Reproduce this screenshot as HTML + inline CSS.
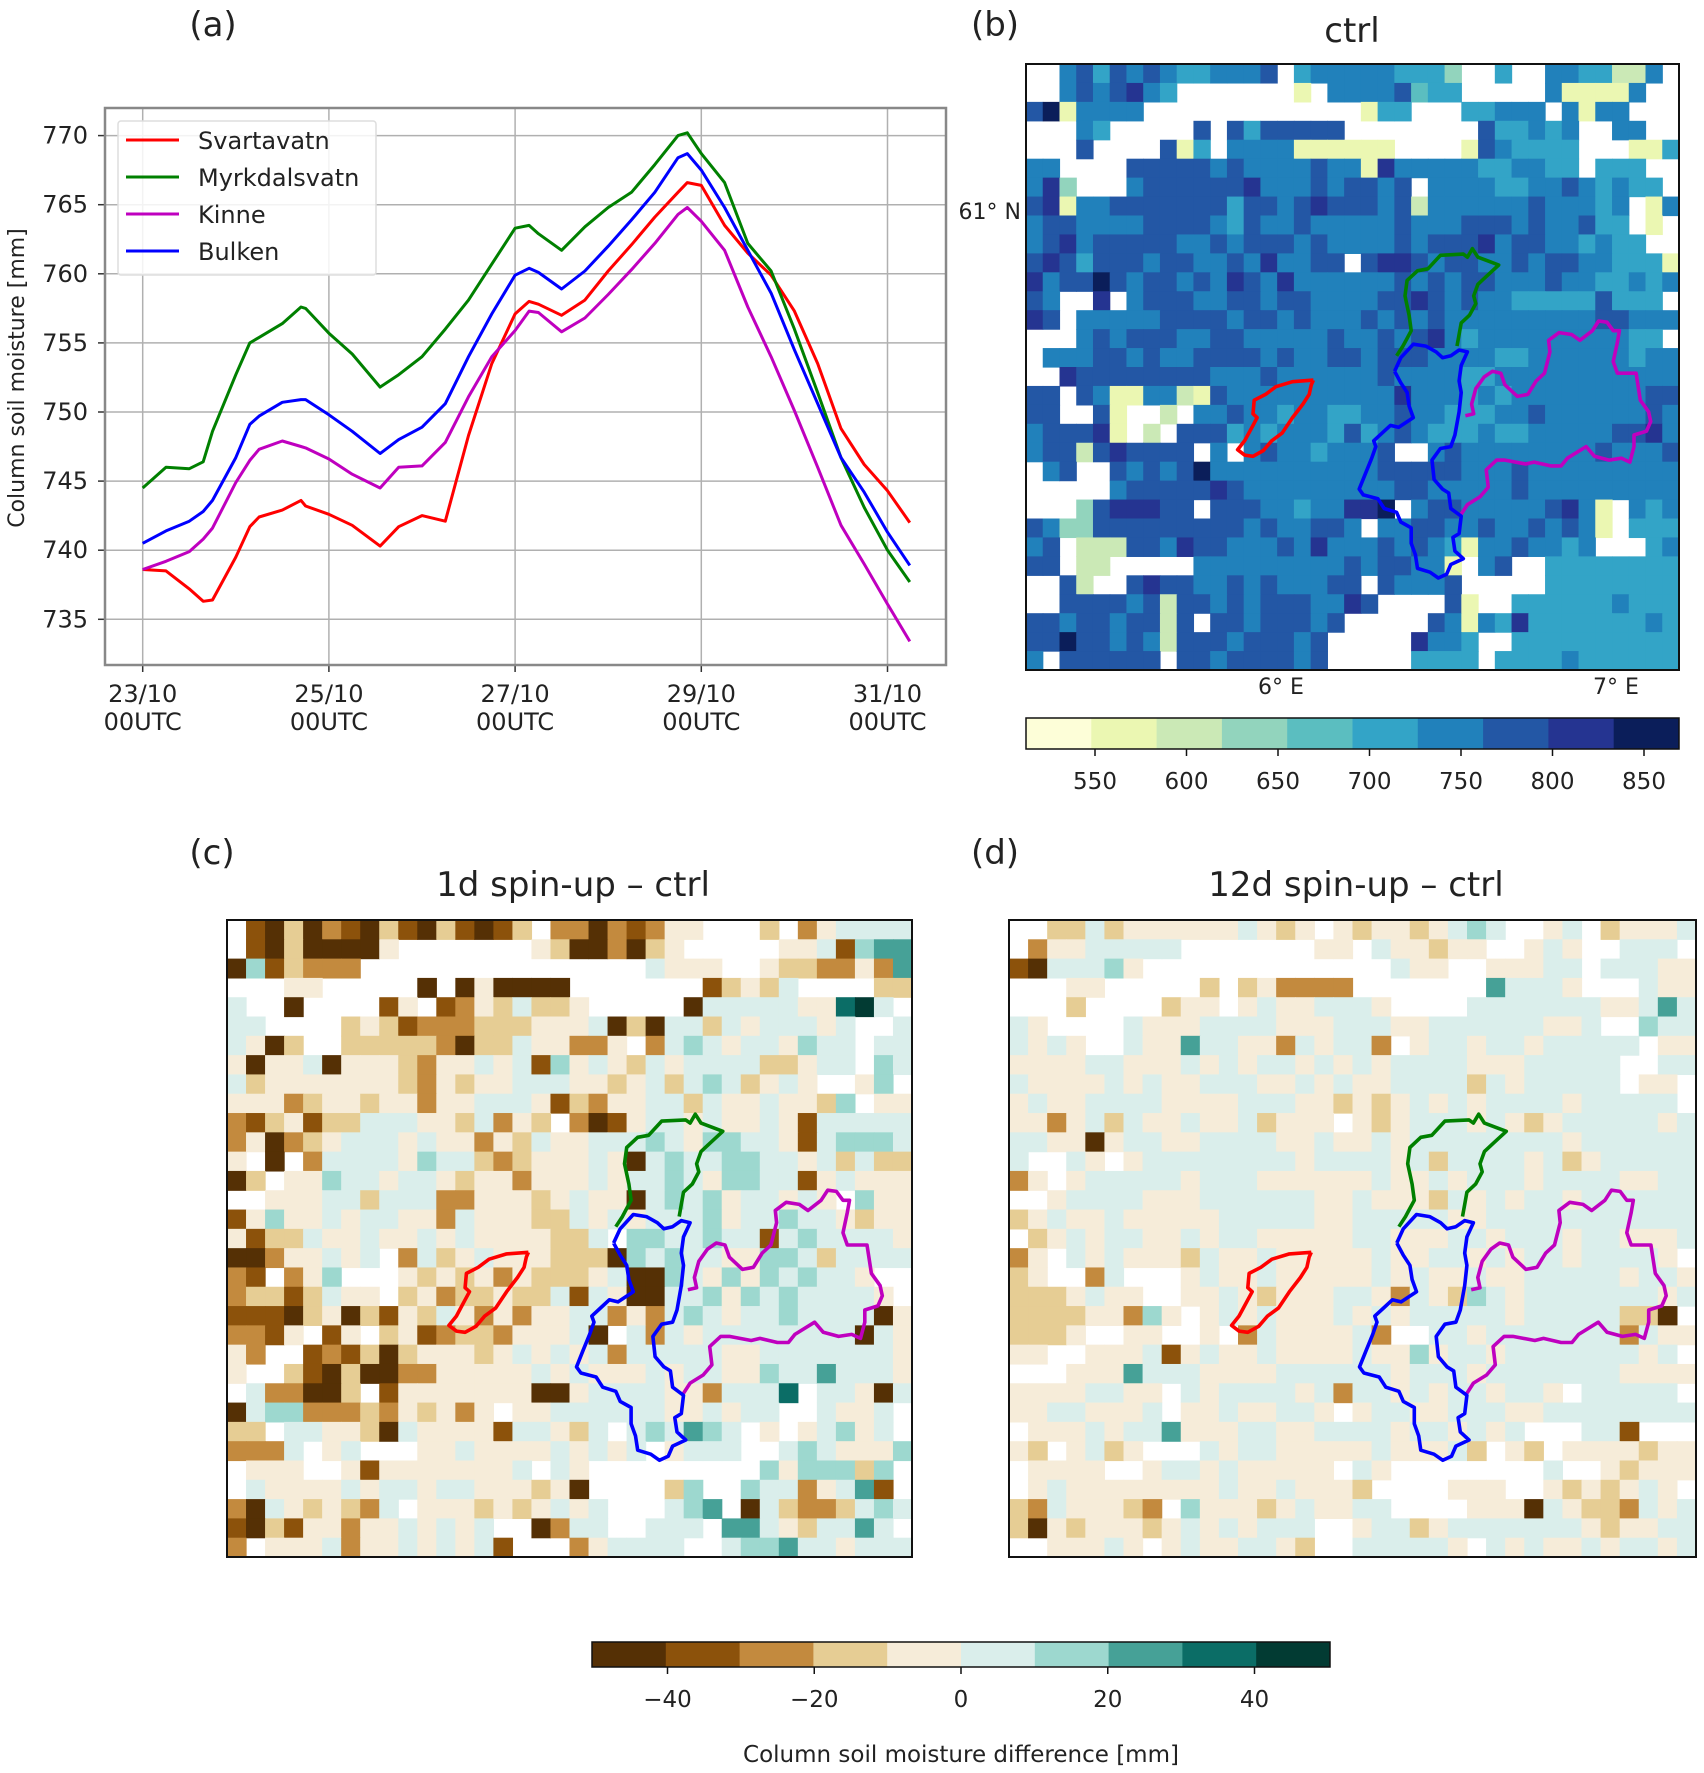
<!DOCTYPE html>
<html><head><meta charset="utf-8">
<style>
html,body{margin:0;padding:0;background:#fff;}
svg{display:block;font-family:"DejaVu Sans","Liberation Sans",sans-serif;}
</style></head>
<body>
<svg id="fig" width="1704" height="1773" viewBox="0 0 1704 1773" xmlns="http://www.w3.org/2000/svg">
<g id="pa"></g>
<g id="pb"></g>
<g id="pc"></g>
<g id="pd"></g>
<g id="cb"></g>
</svg>
<script>
// ---------- Panel (a) data ----------
const times = [0,0.25,0.5,0.65,0.75,1,1.15,1.25,1.5,1.7,1.75,2,2.25,2.55,2.75,3,3.25,3.5,3.75,4,4.15,4.25,4.5,4.75,5,5.25,5.5,5.75,5.85,6,6.25,6.5,6.75,7,7.25,7.5,7.75,8,8.24];
const svartavatn = [738.6,738.5,737.2,736.3,736.4,739.5,741.7,742.4,742.9,743.6,743.2,742.6,741.8,740.3,741.7,742.5,742.1,748.3,753.5,757.1,758.0,757.8,757.0,758.1,760.2,762.1,764.1,765.9,766.6,766.4,763.5,761.5,759.9,757.3,753.5,748.8,746.2,744.3,742.0];
const myrkdalsvatn = [744.5,746.0,745.9,746.4,748.6,752.7,755.0,755.4,756.4,757.6,757.5,755.7,754.2,751.8,752.7,754.0,756.0,758.1,760.7,763.3,763.5,762.9,761.7,763.4,764.8,765.9,767.9,770.0,770.2,768.7,766.6,762.2,760.2,756.0,751.4,746.7,743.1,740.0,737.7];
const kinne = [738.6,739.2,739.9,740.8,741.6,744.9,746.5,747.3,747.9,747.5,747.4,746.6,745.5,744.5,746.0,746.1,747.8,751.1,754.0,755.9,757.3,757.2,755.8,756.8,758.5,760.3,762.2,764.3,764.8,763.8,761.7,757.6,754.0,750.1,746.0,741.8,739.0,736.1,733.4];
const bulken = [740.5,741.4,742.1,742.8,743.6,746.7,749.1,749.7,750.7,750.9,750.9,749.8,748.6,747.0,748.0,748.9,750.6,754.0,757.1,759.9,760.4,760.1,758.9,760.2,762.0,763.9,765.9,768.4,768.7,767.5,764.8,761.7,758.6,754.5,750.6,746.7,744.2,741.3,738.9];
const seriesNames = ["Svartavatn","Myrkdalsvatn","Kinne","Bulken"];
const seriesColors = ["#ff0000","#008000","#bf00bf","#0000ff"];
const yTicks = [735,740,745,750,755,760,765,770];
const xTickDays = [0,2,4,6,8];
const xTickLabels = ["23/10","25/10","27/10","29/10","31/10"];

// ---------- Map data ----------
const ctrlRows = [
"..6757676556667.5666665553..5..665522 6",
"..6767865.......1.66667455..... 611116",
"791666 6.............1 55...55666.6166",
"...65.....7.7 577777........755656..66",
"...7....71 5.6666111111....1765555...11 5",
"66....777776766667661866666556655.555",
"683...67777778666767767.66665566765655",
"781667777777577678777672666666766656.16",
"677666677776576676666676667776766755.1.",
"678677777667677767666676777867766565 5..",
"7875777677667686677.788767766767766555 15",
"867797677676876866666676767766676655656555",
"76..8.677766776776666778767665555575 55",
"87.666667777677676667676766666666677666 6",
"...67677766776666676676786566666666 655",
".66677676677776766776777666655666666 566",
"..87777777766676666667666655666666666 66",
"77.761166217666666666686665656666666677",
"77..71..2.66766566556676655566766666676",
"677781.2.7775656665756765556556666677 86",
"6772787777.6.67665666 7..676666666676667 76",
".67..76767966666666667777766676666666666",
".....6777778766666666677666667666666666",
"...378887 7.77766566889.677666667861.6565",
"76337777777776766776.66776676676761.5556",
"67.2227768776667686667676516676656...565",
"77.22.....666666666767766 1.67..55555555",
"..72..78776676766677 .7666 7.....55555555",
"..777767277676777668 7....71..5555556555",
"77677677 27.776777 67.....761658555555565",
"779776762777677767 .....8665..5555555555",
"6.777777.77677776 7.....5555.5555655555 5"
];
const diff1dRows = [
".103021031031 01 3.2202124 4...3.24555553",
".1030000 4.......4300203 4.....445167 7.",
"0613222...............5444..43322427...",
"...44.....0.04 0000.......1343 5....33",
"5..0....14.1 24353 34.....05555544 895",
"55....343122233344450305535455545..5",
"540 3..3333320335442 24.2565455465 5.55",
"404450444324454516 4543545 5553 345 5.655",
"534444444324 34 4555443453565 345 4..46",
"444 234434424455 541 3244 55354454 4 3 6.44",
"213413355544352 43.2014 554544541 55555",
"240234555454424354455 56546655 41566 65",
"4.0.25555465532344454 05655665 54535 33",
"03.44655455434424 4454556546655 14544 4",
"..4445535552244434 54405656 45545 4.644",
"146445455442544433 54 545556455 65543 44",
"41335445445454444335.66556551565555 4",
"00244545.25345444333065655446 6535555",
"21.246...43434243334500654646 565 54",
"23313544.3423343351540055646 5655554",
"11103403143542424455242565455655 5504",
"2214.14.34123324445 0.525455555555 05 44",
"42..1213034443454545 2555554455555 5544",
"4..3103002244444545444545544 65575 5544",
".522003.144444440045555442555 8.55405",
"0566222324342 4.44555555445455..5445",
"33.554430544441554 35.5657 65.4.45645",
"2225.45...44544445454 5.4555..565 44 46",
".444..41444444 45.54.........64666 36",
".5444454554554443 40....36..6552 4571",
"20543432 5.44434 3454 5...567.05 3 2235 65",
"10314424454545..025 5..555.775435 575",
"2.4445244545451...245555..5667554555"
];
const diff12dRows = [
"..33534444445434.4344345 65..45.3444 54",
".24455555.......44.5443 44..454..555..",
"1055564.............544..44455.5554 4",
"...44.....3.34 2222.......7555 4...544",
"...3....344.4544555 4....55555 5544575",
"54....54445555444555 4455555 5445..655",
"5454..544755 4425 455 2.455 4554 5555 5.44",
"4444554445 454554545 4 55554 4455555..55",
"544445454 4555445 45445555 3545555 5.44",
"4544555544445 554434345454555545 5555..",
"442453544 5445344 4.434 555454 3455555 45",
"554404554455554454 454555555554 5555 55",
"5..54.45555555545555 4535555 45345555 5",
"24.455555455544444454 4545554555 5445 5",
"..455554445555554454443545455 455 5555",
"34544544444555554455555445555555555555",
".3454554454554444455 44455455545544 45",
"24.54544435445444445445545455455554",
"34..25...4544544444545445445555545 54",
"333454 4..4454344455425436545555555 45",
"33334426 4.454544454 5455555455555330",
"3334..44..4.2544445 2..55455555552544",
"44..4445 145445444454 46455455555554 5",
"...444755544445555554555455555 5544 44",
"44445544.5455554525545455455 4.55555",
"44554445.44544554.45544555445555555555",
".44454557 444554455554554545...551",
"43.45 34...5455444445444 53.43.444434 4",
".4444..455454444 4.54........5..43 4444 5",
".454444444454 4544 43....444..4343454",
"3254443 2.6444345445 5....4440543 3254 5",
"30434443454545 55..4553 455555554 3445 55",
"..4445 4.45445543..555554.545445455 45"
];

// catchment outlines, fractional axes coordinates (x,y from top-left, /1568)
const svartavatnOutline = [[690,818],[640,822],[600,835],[575,855],[548,870],[545,905],[555,915],[545,935],[535,955],[525,975],[508,998],[525,1012],[545,1015],[570,1000],[590,975],[615,955],[640,915],[665,880],[680,855],[685,830],[690,818]];
const myrkdalsvatnOutline = [[890,755],[905,730],[915,710],[925,690],[920,650],[910,600],[915,560],[940,535],[965,530],[995,495],[1050,492],[1060,500],[1072,478],[1085,500],[1110,510],[1135,520],[1105,550],[1085,570],[1075,600],[1080,620],[1065,650],[1045,670],[1040,700],[1035,730]];
const bulkenOutline = [[885,795],[900,760],[930,725],[960,730],[985,745],[1000,760],[1020,755],[1040,740],[1060,745],[1045,780],[1040,820],[1045,850],[1040,900],[1030,960],[1020,990],[995,995],[975,1025],[980,1075],[1000,1100],[1015,1110],[1020,1150],[1045,1170],[1040,1215],[1025,1225],[1030,1260],[1050,1280],[1020,1295],[1010,1320],[990,1330],[970,1315],[940,1305],[935,1270],[925,1240],[925,1200],[900,1185],[890,1160],[860,1150],[845,1125],[810,1115],[800,1100],[815,1060],[830,1020],[840,990],[835,975],[855,955],[875,935],[895,940],[930,915],[920,885],[915,850],[900,825],[885,795]];
const kinneOutline = [[1045,1165],[1060,1140],[1090,1120],[1110,1095],[1105,1050],[1130,1025],[1150,1025],[1200,1035],[1220,1030],[1260,1040],[1285,1040],[1300,1020],[1345,990],[1365,1015],[1400,1025],[1430,1020],[1450,1030],[1460,990],[1460,960],[1490,950],[1500,925],[1495,900],[1475,870],[1465,800],[1420,800],[1410,770],[1420,720],[1425,690],[1410,690],[1395,668],[1375,665],[1360,690],[1330,715],[1310,700],[1280,695],[1255,715],[1258,745],[1245,800],[1225,820],[1205,855],[1180,860],[1150,830],[1140,800],[1120,795],[1100,810],[1080,840],[1070,880],[1075,905],[1055,910]];

const ctrlColors = ["#fdfed8","#ebf7b2","#cbe9b6","#92d4bd","#5bbec0","#33a4c7","#2181bb","#2357a5","#253491","#0b1e5a"];
const ctrlTicks = [550,600,650,700,750,800,850];
const diffColors = ["#553005","#8c520b","#c38a3e","#e6cd94","#f6ecd9","#daeeeb","#9dd8cf","#46a197","#0b6d66","#023b33"];
const diffTicks = [-40,-20,0,20,40];

const NS="http://www.w3.org/2000/svg";
function mk(tag, parent, attrs){const e=document.createElementNS(NS,tag);for(const k in attrs)e.setAttribute(k,attrs[k]);parent.appendChild(e);return e;}
function txt(parent, x, y, s, size, anchor){const t=mk("text",parent,{x:x,y:y,"font-size":size,"text-anchor":anchor||"middle",fill:"#222"});t.textContent=s;return t;}

// ---------- Panel (a) ----------
const pa=document.getElementById("pa");
const AX={l:105,r:946,t:108,b:665};
const xS=d=>142.7+d*93.1;
const yS=v=>135.6+(770-v)*13.82;
let t;
t=txt(pa,213,36,"(a)",34);


mk("rect",pa,{x:AX.l,y:AX.t,width:AX.r-AX.l,height:AX.b-AX.t,fill:"#fff"});
xTickDays.forEach((d,i)=>{
  const gl=mk("line",pa,{x1:xS(d),x2:xS(d),y1:AX.t,y2:AX.b,stroke:"#b0b0b0","stroke-width":1.5});
  
  
  mk("line",pa,{x1:xS(d),x2:xS(d),y1:AX.b,y2:AX.b+7,stroke:"#333","stroke-width":1.5});
  const a=txt(pa,xS(d),702,xTickLabels[i],24);
  
  
  const b=txt(pa,xS(d),730,"00UTC",24);
  
  
});
yTicks.forEach(v=>{
  const gl=mk("line",pa,{x1:AX.l,x2:AX.r,y1:yS(v),y2:yS(v),stroke:"#b0b0b0","stroke-width":1.5});
  
  
  mk("line",pa,{x1:AX.l-7,x2:AX.l,y1:yS(v),y2:yS(v),stroke:"#333","stroke-width":1.5});
  const a=txt(pa,88,yS(v)+8,String(v),24,"end");
  
  
});
const fr=mk("rect",pa,{x:AX.l,y:AX.t,width:AX.r-AX.l,height:AX.b-AX.t,fill:"none",stroke:"#888","stroke-width":2.5});


const yl=txt(pa,0,0,"Column soil moisture [mm]",22);
yl.setAttribute("transform","translate(24,378) rotate(-90)");


[svartavatn,myrkdalsvatn,kinne,bulken].forEach((vals,si)=>{
  const p=vals.map((v,i)=>(i?"L":"M")+xS(times[i]).toFixed(1)+","+yS(v).toFixed(1)).join("");
  const pl=mk("path",pa,{d:p,fill:"none",stroke:seriesColors[si],"stroke-width":3,"stroke-linejoin":"round"});
  
  
});
const lg=mk("g",pa,{});


mk("rect",lg,{x:118,y:121,width:258,height:154,rx:3,fill:"#fff","fill-opacity":0.85,stroke:"#ddd","stroke-width":1.5});
seriesNames.forEach((n,i)=>{
  const y=140+i*37;
  const e=mk("g",lg,{});
  
  
  mk("line",e,{x1:126,x2:179,y1:y,y2:y,stroke:seriesColors[i],"stroke-width":3});
  txt(e,198,y+9,n,24,"start");
});

// ---------- Maps ----------
function drawMap(g, box, rows, colors, nc){
  const nr=rows.length, cw=box.w/nc, ch=box.h/nr;
  rows.forEach((row,ri)=>{
    const s=row.replace(/ /g,"");
    for(let ci=0;ci<nc;ci++){
      const c=s[ci]===undefined?".":s[ci];
      if(c===".")continue;
      const cell=mk("rect",g,{x:(box.x+ci*cw).toFixed(2),y:(box.y+ri*ch).toFixed(2),width:(cw+0.6).toFixed(2),height:(ch+0.6).toFixed(2),fill:colors[+c]});
      
      
    }
  });
  const outlines=[[svartavatnOutline,"#ff0000","svartavatn"],[myrkdalsvatnOutline,"#008000","myrkdalsvatn"],[kinneOutline,"#bf00bf","kinne"],[bulkenOutline,"#0000ff","bulken"]];
  outlines.forEach(o=>{
    const d=o[0].map((p,i)=>(i?"L":"M")+(box.x+p[0]/1568*box.w).toFixed(1)+","+(box.y+p[1]/1568*box.h).toFixed(1)).join("");
    const pl=mk("path",g,{d:d,fill:"none",stroke:o[1],"stroke-width":3.6,"stroke-linejoin":"round"});
    
    
  });
  const f=mk("rect",g,{x:box.x,y:box.y,width:box.w,height:box.h,fill:"none",stroke:"#111","stroke-width":2});
  
  
}
const pb=document.getElementById("pb");
t=txt(pb,995,36,"(b)",34);


t=txt(pb,1352,42,"ctrl",34);


drawMap(pb,{x:1026,y:64,w:653,h:606},ctrlRows,ctrlColors,39);
t=txt(pb,1021,219,"61° N",22,"end");


t=txt(pb,1281,694,"6° E",22);


t=txt(pb,1616,694,"7° E",22);



const pc=document.getElementById("pc");
t=txt(pc,212,864,"(c)",34);


t=txt(pc,573,896,"1d spin-up – ctrl",34);


drawMap(pc,{x:227,y:920,w:685,h:637},diff1dRows,diffColors,36);

const pd=document.getElementById("pd");
t=txt(pd,995,864,"(d)",34);


t=txt(pd,1356,896,"12d spin-up – ctrl",34);


drawMap(pd,{x:1009,y:920,w:687,h:637},diff12dRows,diffColors,36);

// ---------- Colorbars ----------
const cb=document.getElementById("cb");
function colorbar(box, colors, ticks, tickX, name){
  const g=mk("g",cb,{});
  
  
  const w=box.w/colors.length;
  colors.forEach((c,i)=>mk("rect",g,{x:box.x+i*w,y:box.y,width:w+0.5,height:box.h,fill:c}));
  mk("rect",g,{x:box.x,y:box.y,width:box.w,height:box.h,fill:"none",stroke:"#111","stroke-width":1.5});
  ticks.forEach(v=>{
    const x=tickX(v);
    mk("line",g,{x1:x,x2:x,y1:box.y+box.h,y2:box.y+box.h+7,stroke:"#111","stroke-width":1.5});
    const l=txt(g,x,box.y+box.h+40,(v<0?"\u2212"+(-v):String(v)),23);
    
    
  });
}
colorbar({x:1026,y:718,w:653,h:31},ctrlColors,ctrlTicks,v=>1095+(v-550)*(1644-1095)/300,"colorbar-ctrl");
colorbar({x:592,y:1642,w:738,h:25},diffColors,diffTicks,v=>961+v*(1253-666)/80,"colorbar-difference");
t=txt(cb,961,1762,"Column soil moisture difference [mm]",23);


</script>
</body></html>
